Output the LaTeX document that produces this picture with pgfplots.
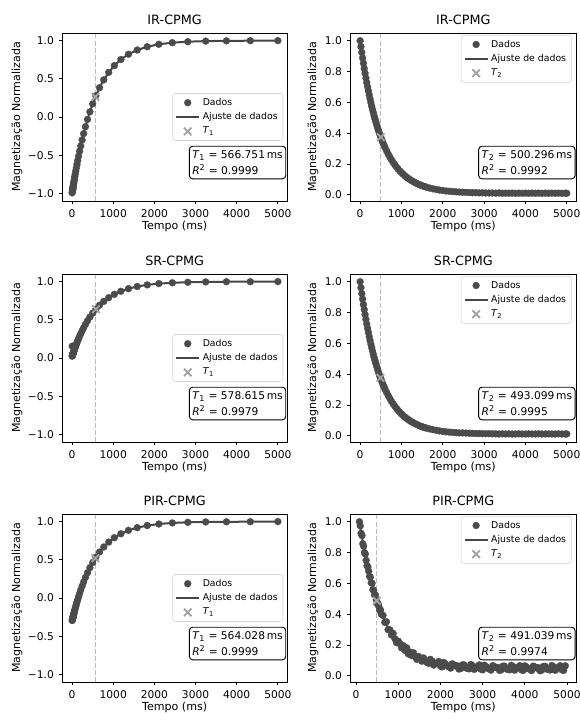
\documentclass[border=0pt]{standalone}
\usepackage{fontspec}
\setmainfont{DejaVu Sans}
\usepackage{pgfplots}
\pgfplotsset{compat=1.18}
\usepackage{pgfplotstable}

\definecolor{dado}{HTML}{4B4B4B}
\definecolor{ajuste}{HTML}{454545}
\definecolor{cruz}{HTML}{A3A3A3}
\definecolor{vlin}{HTML}{BBBBBB}
\definecolor{leg}{HTML}{D3D3D3}

% T1 (esquerda): t em ms, IR, SR, PIR
\pgfplotstableread{
t ir sr pir
2 -0.993 0.024 -0.295
5 -0.982 0.029 -0.289
10 -0.965 0.037 -0.277
12 -0.958 0.040 -0.273
14 -0.951 0.043 -0.268
16 -0.944 0.047 -0.264
18 -0.937 0.050 -0.259
21 -0.927 0.055 -0.253
24 -0.917 0.060 -0.246
28 -0.904 0.066 -0.237
33 -0.887 0.074 -0.226
38 -0.870 0.082 -0.215
43 -0.854 0.090 -0.205
50 -0.831 0.101 -0.190
58 -0.805 0.113 -0.173
67 -0.777 0.127 -0.154
77 -0.746 0.142 -0.134
89 -0.710 0.160 -0.110
103 -0.668 0.180 -0.083
119 -0.621 0.202 -0.053
137 -0.570 0.227 -0.020
158 -0.513 0.254 0.018
183 -0.448 0.286 0.060
211 -0.379 0.319 0.106
244 -0.300 0.357 0.157
281 -0.218 0.397 0.210
325 -0.127 0.441 0.269
375 -0.032 0.487 0.331
433 0.068 0.536 0.397
500 0.172 0.587 0.464
578 0.279 0.639 0.534
667 0.384 0.691 0.602
770 0.486 0.741 0.668
890 0.584 0.790 0.732
1027 0.673 0.834 0.790
1186 0.753 0.874 0.841
1370 0.822 0.908 0.886
1582 0.877 0.936 0.921
1826 0.920 0.958 0.949
2109 0.952 0.974 0.969
2435 0.973 0.985 0.983
2812 0.986 0.992 0.991
3247 0.994 0.996 0.996
3750 0.997 0.999 0.998
4330 0.999 0.999 0.999
5000 1.000 1.000 1.000
}\tumdados

% T2 (direita): IR e SR
\pgfplotstableread{
t ir sr
0 1.000 1.000
20 0.961 0.961
40 0.924 0.923
60 0.888 0.887
80 0.854 0.852
100 0.820 0.819
120 0.789 0.787
140 0.758 0.756
160 0.729 0.726
180 0.701 0.698
200 0.674 0.671
220 0.648 0.644
240 0.623 0.619
260 0.599 0.595
280 0.575 0.572
300 0.553 0.550
320 0.532 0.528
340 0.512 0.508
360 0.492 0.488
380 0.473 0.469
400 0.455 0.451
420 0.437 0.433
440 0.421 0.417
460 0.405 0.401
480 0.389 0.385
500 0.374 0.370
520 0.360 0.356
540 0.346 0.342
560 0.333 0.329
580 0.320 0.317
600 0.308 0.304
640 0.285 0.282
680 0.264 0.261
720 0.245 0.241
760 0.227 0.223
800 0.210 0.207
840 0.195 0.192
880 0.180 0.178
920 0.167 0.165
960 0.155 0.153
1000 0.144 0.142
1040 0.134 0.132
1080 0.124 0.122
1120 0.115 0.114
1160 0.107 0.106
1200 0.100 0.099
1240 0.093 0.092
1280 0.087 0.086
1320 0.081 0.080
1360 0.075 0.075
1400 0.070 0.070
1440 0.066 0.065
1480 0.061 0.061
1520 0.057 0.057
1560 0.054 0.054
1600 0.050 0.050
1680 0.044 0.045
1760 0.039 0.040
1840 0.035 0.036
1920 0.031 0.032
2000 0.028 0.029
2080 0.025 0.026
2160 0.023 0.024
2240 0.021 0.022
2320 0.020 0.021
2400 0.018 0.019
2480 0.017 0.019
2560 0.016 0.018
2640 0.015 0.017
2720 0.014 0.016
2800 0.014 0.015
2880 0.013 0.015
2960 0.013 0.014
3040 0.012 0.014
3120 0.012 0.014
3200 0.012 0.013
3280 0.011 0.013
3360 0.012 0.012
3440 0.010 0.013
3520 0.011 0.012
3600 0.010 0.013
3680 0.011 0.012
3760 0.010 0.012
3840 0.011 0.013
3920 0.010 0.012
4000 0.011 0.012
4080 0.010 0.013
4160 0.011 0.012
4240 0.010 0.012
4320 0.011 0.013
4400 0.010 0.012
4480 0.011 0.012
4560 0.010 0.013
4640 0.011 0.012
4720 0.010 0.012
4800 0.011 0.013
4880 0.010 0.012
4960 0.011 0.012
5000 0.010 0.012
}\tdoisdados

% T2 PIR (com ruido)
\pgfplotstableread{
t m
80 1.000
100 0.973
120 0.925
140 0.910
160 0.857
180 0.841
200 0.800
220 0.790
240 0.749
260 0.715
280 0.707
300 0.679
320 0.645
340 0.640
360 0.604
380 0.601
400 0.559
420 0.554
440 0.524
460 0.524
480 0.494
500 0.469
520 0.470
540 0.451
560 0.425
580 0.428
600 0.400
640 0.392
680 0.347
720 0.351
760 0.299
800 0.299
840 0.265
880 0.275
920 0.241
960 0.215
1000 0.225
1040 0.208
1080 0.181
1120 0.196
1160 0.165
1200 0.182
1240 0.142
1280 0.154
1320 0.131
1360 0.150
1400 0.125
1440 0.107
1480 0.126
1520 0.116
1560 0.095
1600 0.116
1680 0.087
1760 0.107
1840 0.070
1920 0.085
2000 0.064
2080 0.087
2160 0.065
2240 0.050
2320 0.072
2400 0.065
2480 0.047
2560 0.071
2640 0.049
2720 0.074
2800 0.042
2880 0.060
2960 0.043
3040 0.069
3120 0.049
3200 0.037
3280 0.060
3360 0.055
3440 0.039
3520 0.063
3600 0.042
3680 0.068
3760 0.037
3840 0.056
3920 0.039
4000 0.065
4080 0.046
4160 0.034
4240 0.058
4320 0.053
4400 0.037
4480 0.062
4560 0.041
4640 0.067
4720 0.036
4800 0.055
4880 0.039
4960 0.065
1720 0.081
1800 0.097
1880 0.079
1960 0.093
2040 0.058
2120 0.077
2200 0.059
2280 0.078
2360 0.064
2440 0.044
2520 0.071
2600 0.052
2680 0.045
2760 0.066
2840 0.052
2920 0.071
3000 0.039
3080 0.061
3160 0.045
3240 0.066
3320 0.053
3400 0.035
3480 0.063
3560 0.045
3640 0.039
3720 0.061
3800 0.048
3880 0.066
3960 0.035
4040 0.057
4120 0.042
4200 0.063
4280 0.051
4360 0.033
4440 0.061
4520 0.044
4600 0.038
4680 0.060
4760 0.047
4840 0.066
4920 0.035
}\tpirdados

\pgfplotstableread{
t m
80 1.000
120 0.931
160 0.867
200 0.808
260 0.726
320 0.654
400 0.569
480 0.497
560 0.434
640 0.380
760 0.313
880 0.260
1000 0.217
1120 0.184
1280 0.149
1440 0.123
1600 0.104
1840 0.084
2080 0.072
2400 0.062
2800 0.056
3200 0.053
4000 0.050
4960 0.050
}\tpirajuste

\tikzset{
  caixa/.style={draw=black, line width=0.7pt, rounded corners=2.5pt, fill=white, align=left, anchor=east, inner xsep=2.2pt, inner ysep=3.2pt, font=\fontsize{8}{12}\selectfont},
}

\pgfplotsset{
  painel/.style={
    scale only axis, height=126pt,
    xtick={0,1000,2000,3000,4000,5000},
    xticklabels={0,1000,2000,3000,4000,5000},
    scaled ticks=false,
    tick align=outside, tick pos=left,
    major tick length=2.6pt,
    every tick/.style={black, line width=0.6pt},
    axis line style={line width=0.6pt},
    tick label style={font=\fontsize{8}{9}\selectfont},
    xlabel={Tempo (ms)}, ylabel={Magnetização Normalizada},
    label style={font=\fontsize{8.3}{10}\selectfont},
    x label style={at={(axis description cs:0.5,-0.149)}, anchor=center},
    title style={at={(axis description cs:0.5,1.077)}, anchor=center, yshift=-6pt, font=\fontsize{9.6}{11}\selectfont},
    legend style={font=\fontsize{7}{8.5}\selectfont, draw=leg, rounded corners=2pt, fill=white, inner xsep=2pt, inner ysep=1.5pt},
    legend cell align=left,
  },
  painelT1/.style={painel, width=169pt, xmin=-245, xmax=5230, ymin=-1.1, ymax=1.1,
    ytick={-1,-0.5,0,0.5,1}, yticklabels={−1.0,−0.5,0.0,0.5,1.0},
    y label style={at={(axis description cs:-0.2,0.5)}, anchor=center},
    legend style={at={(0.982,0.5)}, anchor=east}},
  painelT2/.style={painel, width=170pt, xmin=-245, xmax=5240, ymin=-0.04, ymax=1.05,
    ytick={0,0.2,0.4,0.6,0.8,1}, yticklabels={0.0,0.2,0.4,0.6,0.8,1.0},
    y label style={at={(axis description cs:-0.163,0.5)}, anchor=center},
    legend style={at={(0.978,0.988)}, anchor=north east}},
  dados/.style={only marks, mark=*, mark size=2.6pt, color=dado, mark options={draw=dado, fill=dado, line width=0.2pt}},
  ajuste/.style={no markers, line width=1.5pt, color=ajuste},
  cruz/.style={only marks, mark=x, mark size=4pt, color=cruz, mark options={line width=1.4pt}},
  vlinha/.style={no markers, color=vlin, line width=0.9pt, dash pattern=on 3.7pt off 1.6pt, forget plot},
}

\begin{document}
\begin{tikzpicture}
\useasboundingbox (0,0) rectangle (435pt,541.5pt);

% ---------- linha 1: IR-CPMG ----------
\begin{axis}[painelT1, at={(46.5pt,390.75pt)}, anchor=south west, title={IR-CPMG}]
  \addplot[vlinha] coordinates {(566.751,-1.1) (566.751,1.1)};
  \addplot[dados] table[x=t, y=ir] {\tumdados};
  \addlegendentry{Dados}
  \addplot[ajuste] table[x=t, y=ir] {\tumdados};
  \addlegendentry{Ajuste de dados}
  \addplot[cruz] coordinates {(566.751,0.264)};
  \addlegendentry{\textit{T}\textsubscript{1}}
  \node[caixa] at (rel axis cs:0.995,0.229) {\textit{T}\textsubscript{1} = 566.751\,ms\\\textit{R}\textsuperscript{2} = 0.9999};
\end{axis}

\begin{axis}[painelT2, at={(262.5pt,390.75pt)}, anchor=south west, title={IR-CPMG}]
  \addplot[vlinha] coordinates {(500.296,-0.04) (500.296,1.05)};
  \addplot[dados] table[x=t, y=ir] {\tdoisdados};
  \addlegendentry{Dados}
  \addplot[ajuste] table[x=t, y=ir] {\tdoisdados};
  \addlegendentry{Ajuste de dados}
  \addplot[cruz] coordinates {(500.296,0.374)};
  \addlegendentry{\textit{T}\textsubscript{2}}
  \node[caixa] at (rel axis cs:0.995,0.229) {\textit{T}\textsubscript{2} = 500.296\,ms\\\textit{R}\textsuperscript{2} = 0.9992};
\end{axis}

% ---------- linha 2: SR-CPMG ----------
\begin{axis}[painelT1, at={(46.5pt,210pt)}, anchor=south west, title={SR-CPMG}]
  \addplot[vlinha] coordinates {(578.615,-1.1) (578.615,1.1)};
  \addplot[dados] table[x=t, y=sr] {\tumdados};
  \addlegendentry{Dados}
  \addplot[ajuste] table[x=t, y=sr] {\tumdados};
  \addlegendentry{Ajuste de dados}
  \addplot[cruz] coordinates {(578.615,0.639)};
  \addlegendentry{\textit{T}\textsubscript{1}}
  \addplot[dados, forget plot] coordinates {(5,0.155)};
  \node[caixa] at (rel axis cs:0.995,0.229) {\textit{T}\textsubscript{1} = 578.615\,ms\\\textit{R}\textsuperscript{2} = 0.9979};
\end{axis}

\begin{axis}[painelT2, at={(262.5pt,210pt)}, anchor=south west, title={SR-CPMG}]
  \addplot[vlinha] coordinates {(493.099,-0.04) (493.099,1.05)};
  \addplot[dados] table[x=t, y=sr] {\tdoisdados};
  \addlegendentry{Dados}
  \addplot[ajuste] table[x=t, y=sr] {\tdoisdados};
  \addlegendentry{Ajuste de dados}
  \addplot[cruz] coordinates {(493.099,0.376)};
  \addlegendentry{\textit{T}\textsubscript{2}}
  \node[caixa] at (rel axis cs:0.995,0.229) {\textit{T}\textsubscript{2} = 493.099\,ms\\\textit{R}\textsuperscript{2} = 0.9995};
\end{axis}

% ---------- linha 3: PIR-CPMG ----------
\begin{axis}[painelT1, at={(46.5pt,30pt)}, anchor=south west, title={PIR-CPMG}]
  \addplot[vlinha] coordinates {(564.028,-1.1) (564.028,1.1)};
  \addplot[dados] table[x=t, y=pir] {\tumdados};
  \addlegendentry{Dados}
  \addplot[ajuste] table[x=t, y=pir] {\tumdados};
  \addlegendentry{Ajuste de dados}
  \addplot[cruz] coordinates {(564.028,0.522)};
  \addlegendentry{\textit{T}\textsubscript{1}}
  \node[caixa] at (rel axis cs:0.995,0.229) {\textit{T}\textsubscript{1} = 564.028\,ms\\\textit{R}\textsuperscript{2} = 0.9999};
\end{axis}

\begin{axis}[painelT2, xmin=-143, xmax=5229, at={(262.5pt,30pt)}, anchor=south west, title={PIR-CPMG}]
  \addplot[vlinha] coordinates {(491.039,-0.04) (491.039,1.05)};
  \addplot[dados] table[x=t, y=m] {\tpirdados};
  \addlegendentry{Dados}
  \addplot[ajuste] table[x=t, y=m] {\tpirajuste};
  \addlegendentry{Ajuste de dados}
  \addplot[cruz] coordinates {(491.039,0.487)};
  \addlegendentry{\textit{T}\textsubscript{2}}
  \node[caixa] at (rel axis cs:0.995,0.229) {\textit{T}\textsubscript{2} = 491.039\,ms\\\textit{R}\textsuperscript{2} = 0.9974};
\end{axis}
\end{tikzpicture}
\end{document}
